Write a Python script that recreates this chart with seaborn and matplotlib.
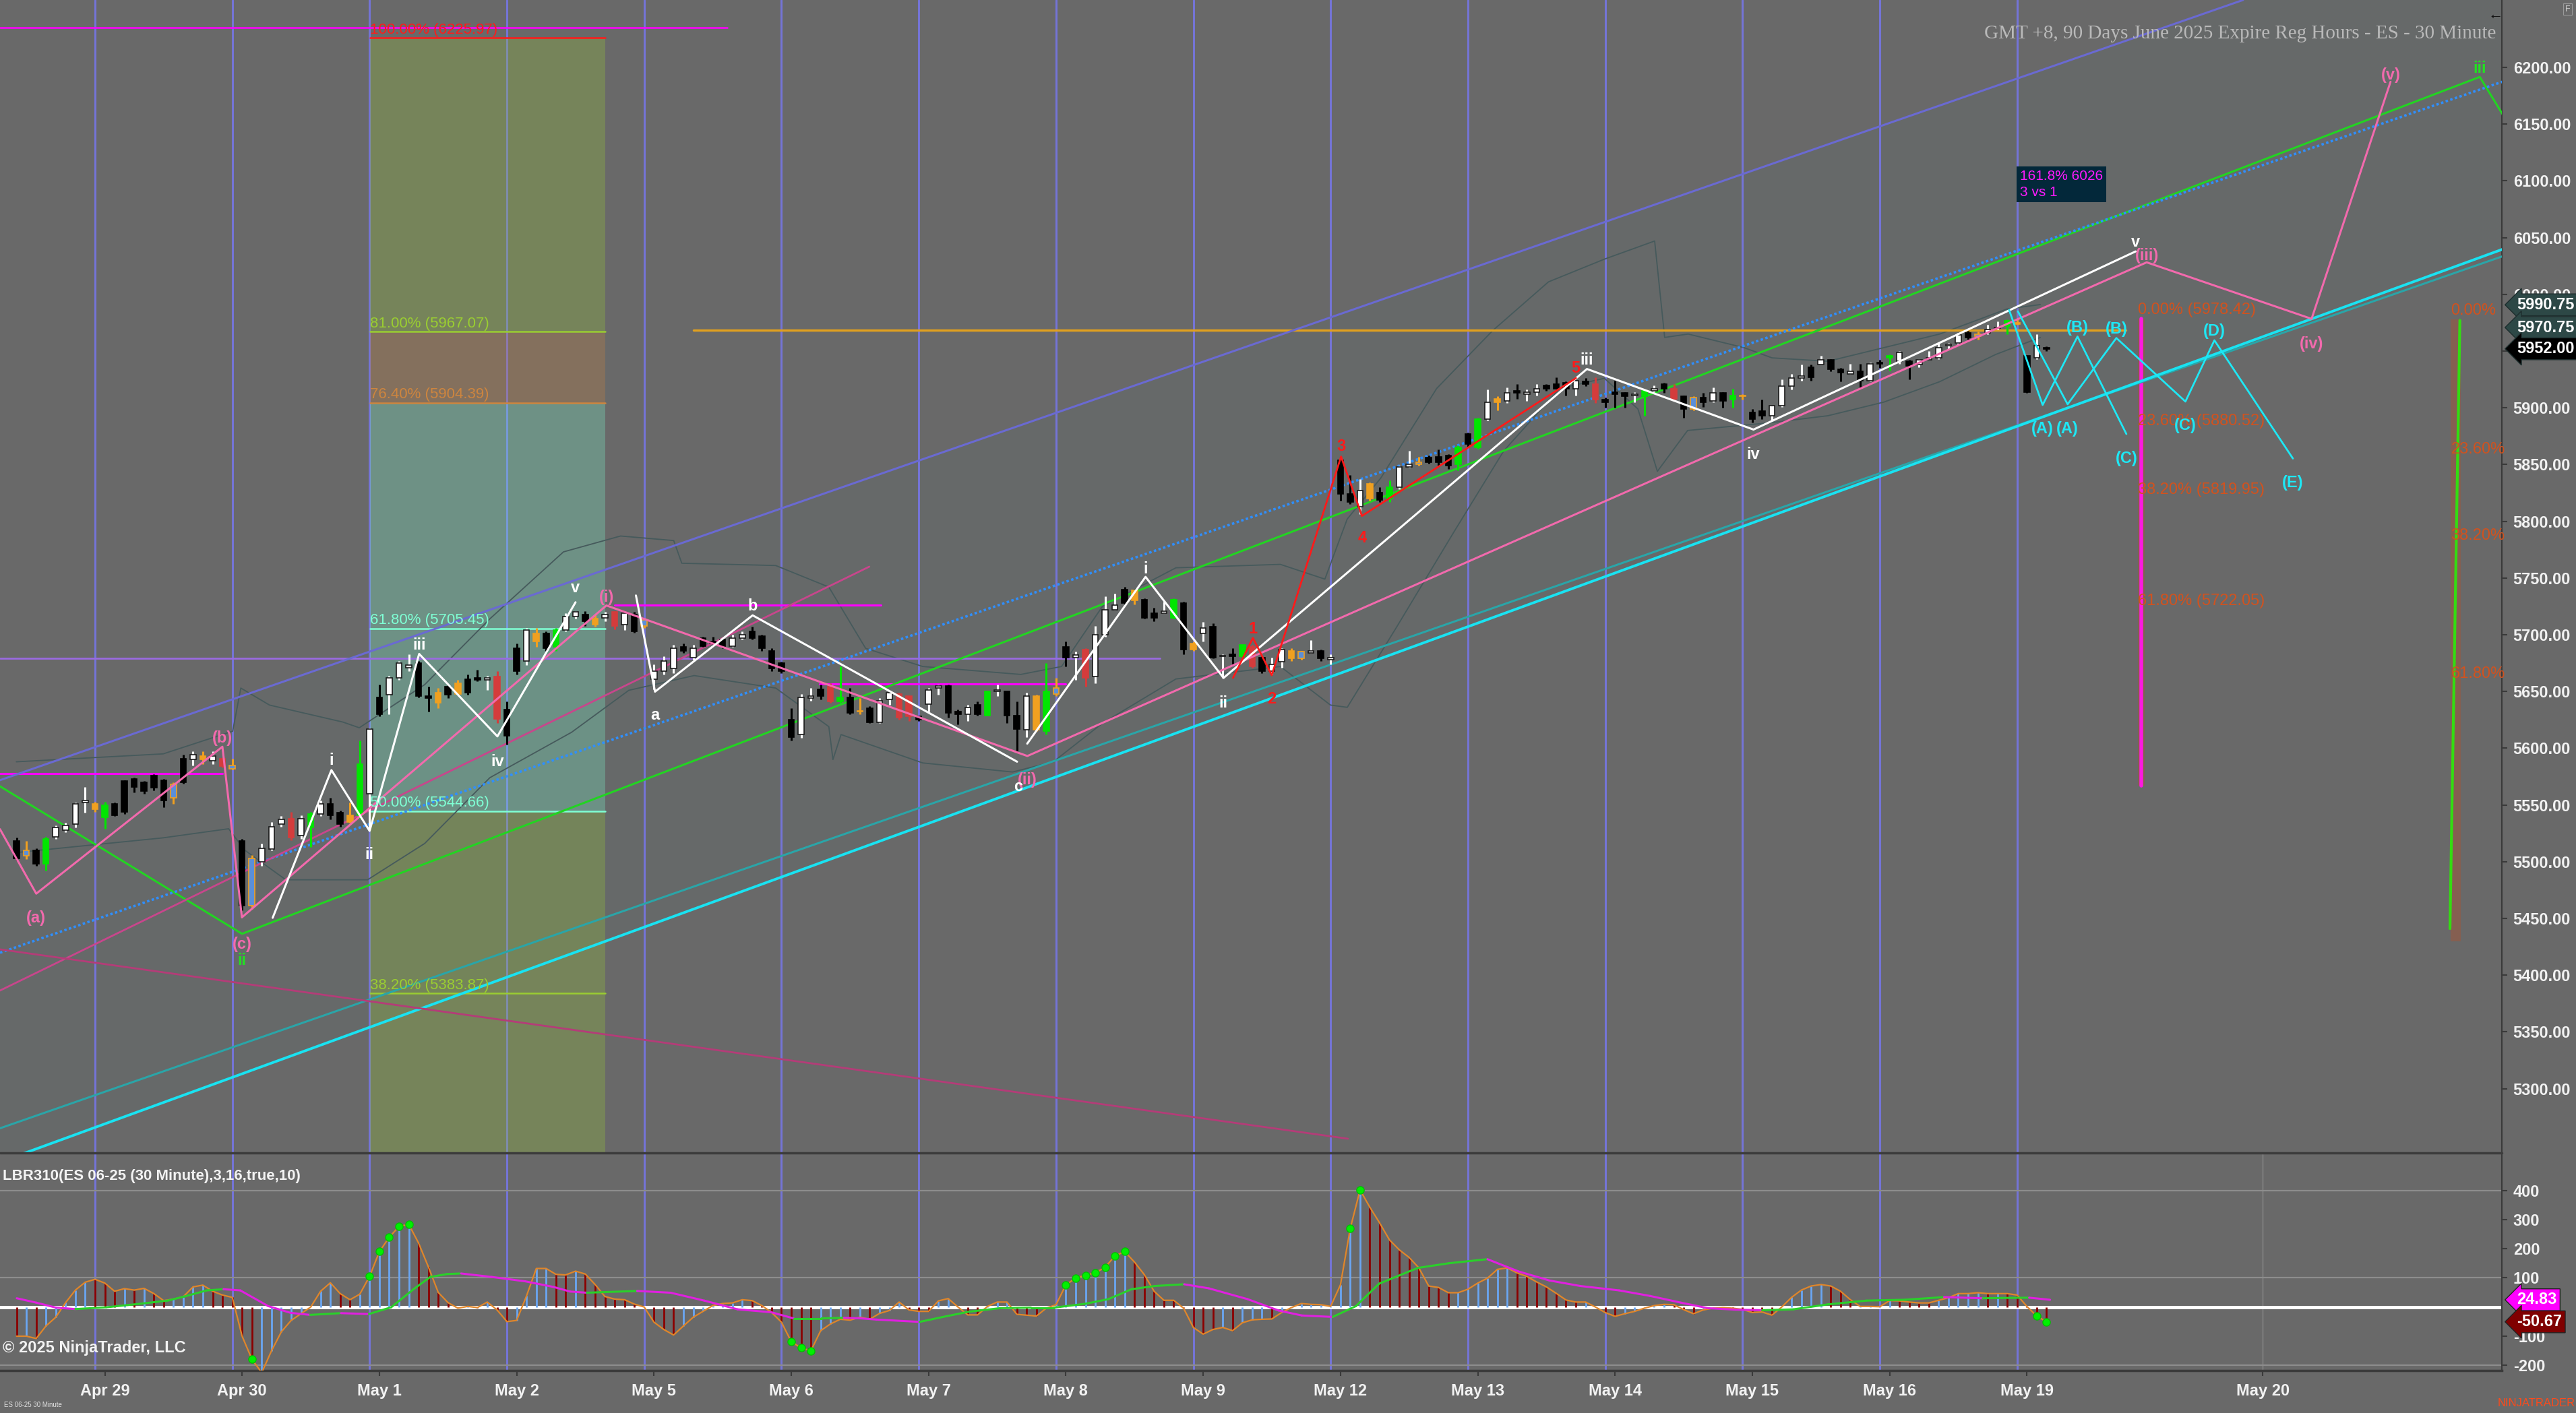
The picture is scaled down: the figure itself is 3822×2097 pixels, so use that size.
import numpy as np
import matplotlib
matplotlib.use("Agg")
import matplotlib.pyplot as plt
import matplotlib.transforms as mtransforms
from matplotlib.lines import Line2D
import seaborn as sns

# ---------------- data ----------------
# sessions: day index (Apr 29 = 0), first bar number, number of bars (14 bars of 30 min per session)
day_names = ["Apr 28", "Apr 29", "Apr 30", "May 1", "May 2", "May 5", "May 6", "May 7",
             "May 8", "May 9", "May 12", "May 13", "May 14", "May 15", "May 16", "May 19"]
day_index = [-1, 0, 1, 2, 3, 4, 5, 6, 7, 8, 9, 10, 11, 12, 13, 14]
first_bar = [6, 1, 1, 1, 1, 1, 1, 1, 1, 1, 1, 1, 1, 1, 1, 1]
bar_count = [9, 14, 14, 14, 14, 14, 14, 14, 14, 14, 14, 14, 14, 14, 14, 3]

opens = [5518, 5505, 5510, 5498, 5522, 5528, 5533, 5552, 5551,
         5539, 5551, 5571, 5573, 5570, 5576, 5572, 5556, 5591, 5590, 5593, 5589, 5591, 5582,
         5518, 5461, 5500, 5511, 5533, 5538, 5523, 5530, 5542, 5551, 5543, 5535, 5541, 5560,
         5645, 5647, 5662, 5671, 5675, 5646, 5640, 5654, 5648, 5661, 5662, 5660, 5663, 5634,
         5688, 5677, 5701, 5701, 5689, 5704, 5716, 5718, 5714, 5715, 5720, 5709, 5718, 5708,
         5661, 5668, 5670, 5689, 5680, 5697, 5694, 5696, 5690, 5697, 5703, 5699, 5686, 5675,
         5625, 5612, 5644, 5652, 5654, 5641, 5645, 5633, 5635, 5623, 5643, 5648, 5646, 5628,
         5639, 5653, 5655, 5632, 5630, 5638, 5629, 5650, 5650, 5629, 5616, 5616, 5615, 5648,
         5689, 5680, 5687, 5663, 5700, 5722, 5740, 5730, 5731, 5719, 5719, 5715, 5728, 5687,
         5701, 5707, 5681, 5683, 5681, 5689, 5680, 5668, 5676, 5686, 5685, 5684, 5686, 5678,
         5854, 5824, 5813, 5833, 5825, 5820, 5830, 5848, 5852, 5856, 5857, 5858, 5850, 5877,
         5865, 5890, 5908, 5906, 5915, 5912, 5914, 5920, 5921, 5922, 5917, 5923, 5921, 5907,
         5914, 5913, 5911, 5910, 5915, 5921, 5917, 5910, 5899, 5909, 5906, 5913, 5907, 5911,
         5896, 5897, 5893, 5902, 5919, 5926, 5936, 5938, 5942, 5934, 5930, 5932, 5924, 5940,
         5944, 5941, 5941, 5938, 5942, 5944, 5955, 5957, 5966, 5963, 5966, 5970, 5972, 5975,
         5946, 5944, 5953]
highs = [5521, 5518, 5512, 5522, 5532, 5534, 5552, 5566, 5553,
         5553, 5552, 5572, 5574, 5571, 5577, 5573, 5570, 5594, 5597, 5597, 5597, 5592, 5591,
         5520, 5506, 5516, 5535, 5540, 5544, 5541, 5544, 5554, 5556, 5545, 5552, 5607, 5618,
         5656, 5664, 5677, 5683, 5677, 5654, 5653, 5656, 5660, 5665, 5669, 5664, 5668, 5641,
         5692, 5706, 5706, 5703, 5706, 5719, 5721, 5721, 5718, 5720, 5721, 5720, 5720, 5715,
         5674, 5681, 5691, 5692, 5691, 5698, 5698, 5697, 5700, 5703, 5707, 5700, 5688, 5676,
         5635, 5648, 5653, 5656, 5657, 5672, 5653, 5644, 5637, 5644, 5649, 5649, 5646, 5628,
         5653, 5656, 5656, 5634, 5638, 5641, 5650, 5656, 5650, 5641, 5649, 5647, 5675, 5662,
         5694, 5685, 5688, 5708, 5734, 5736, 5742, 5740, 5732, 5724, 5729, 5732, 5729, 5694,
         5711, 5710, 5683, 5688, 5691, 5691, 5681, 5680, 5688, 5688, 5686, 5695, 5687, 5683,
         5857, 5841, 5837, 5834, 5830, 5836, 5849, 5862, 5857, 5858, 5863, 5859, 5867, 5878,
         5891, 5916, 5910, 5918, 5921, 5916, 5921, 5921, 5927, 5923, 5924, 5926, 5927, 5909,
         5924, 5914, 5914, 5916, 5920, 5922, 5921, 5911, 5910, 5913, 5918, 5914, 5917, 5912,
         5899, 5907, 5902, 5925, 5930, 5938, 5938, 5946, 5943, 5935, 5939, 5939, 5940, 5942,
         5947, 5950, 5942, 5943, 5950, 5957, 5957, 5966, 5968, 5967, 5973, 5976, 5978, 5979,
         5946, 5965, 5954]
lows = [5501, 5502, 5496, 5492, 5520, 5526, 5530, 5543, 5544,
        5529, 5540, 5542, 5561, 5560, 5563, 5548, 5551, 5569, 5585, 5586, 5586, 5583, 5581,
        5457, 5458, 5496, 5510, 5531, 5519, 5520, 5513, 5540, 5537, 5531, 5534, 5538, 5528,
        5628, 5630, 5660, 5668, 5645, 5632, 5635, 5644, 5647, 5647, 5659, 5651, 5622, 5603,
        5665, 5673, 5689, 5686, 5686, 5703, 5714, 5708, 5707, 5712, 5705, 5704, 5702, 5706,
        5652, 5665, 5666, 5684, 5678, 5689, 5691, 5688, 5689, 5696, 5696, 5686, 5668, 5666,
        5607, 5609, 5642, 5643, 5640, 5640, 5630, 5630, 5622, 5622, 5638, 5625, 5624, 5624,
        5632, 5647, 5627, 5621, 5624, 5629, 5629, 5646, 5622, 5597, 5610, 5615, 5612, 5646,
        5672, 5660, 5654, 5657, 5698, 5722, 5727, 5727, 5714, 5712, 5719, 5714, 5683, 5686,
        5694, 5679, 5662, 5674, 5680, 5671, 5666, 5665, 5671, 5677, 5678, 5684, 5677, 5674,
        5818, 5815, 5806, 5818, 5817, 5817, 5828, 5847, 5849, 5851, 5849, 5846, 5845, 5865,
        5864, 5889, 5898, 5904, 5908, 5906, 5911, 5915, 5917, 5911, 5911, 5919, 5904, 5900,
        5900, 5900, 5905, 5893, 5914, 5913, 5907, 5891, 5898, 5901, 5905, 5900, 5900, 5907,
        5887, 5890, 5889, 5901, 5916, 5924, 5924, 5938, 5932, 5923, 5930, 5918, 5923, 5935,
        5933, 5939, 5925, 5936, 5942, 5943, 5951, 5956, 5960, 5960, 5965, 5969, 5965, 5973,
        5913, 5943, 5950]
closes = [5503, 5510, 5498, 5520, 5530, 5532, 5551, 5554, 5546,
          5550, 5541, 5544, 5566, 5562, 5565, 5554, 5568, 5570, 5594, 5590, 5593, 5584, 5585,
          5461, 5503, 5512, 5531, 5537, 5521, 5538, 5542, 5551, 5541, 5533, 5541, 5586, 5617,
          5630, 5662, 5675, 5673, 5646, 5644, 5649, 5647, 5657, 5649, 5660, 5662, 5626, 5611,
          5668, 5704, 5694, 5688, 5704, 5716, 5720, 5712, 5709, 5718, 5708, 5719, 5703, 5713,
          5668, 5677, 5688, 5686, 5688, 5690, 5692, 5690, 5697, 5700, 5697, 5688, 5670, 5668,
          5610, 5645, 5646, 5646, 5641, 5645, 5631, 5632, 5623, 5642, 5649, 5627, 5628, 5625,
          5651, 5655, 5631, 5630, 5636, 5630, 5650, 5651, 5629, 5617, 5646, 5646, 5650, 5653,
          5680, 5682, 5662, 5700, 5722, 5726, 5728, 5739, 5715, 5715, 5721, 5731, 5687, 5692,
          5706, 5680, 5681, 5681, 5691, 5672, 5668, 5674, 5687, 5679, 5679, 5686, 5679, 5680,
          5824, 5817, 5827, 5820, 5819, 5830, 5848, 5850, 5850, 5852, 5852, 5849, 5865, 5868,
          5890, 5905, 5905, 5913, 5913, 5914, 5917, 5917, 5917, 5917, 5924, 5921, 5907, 5905,
          5912, 5910, 5912, 5915, 5917, 5917, 5908, 5899, 5909, 5905, 5913, 5906, 5911, 5910,
          5890, 5893, 5902, 5919, 5926, 5928, 5927, 5942, 5934, 5931, 5932, 5924, 5939, 5939,
          5946, 5949, 5937, 5942, 5944, 5953, 5956, 5964, 5962, 5965, 5969, 5971, 5977, 5974,
          5914, 5955, 5952]
# bar colours: w white, b black, g green, o orange, r red, u blue body with orange outline
candle_colors = ("bubgwwwwo" "gbbbbbbubwowru" "buwwwrwgwbbogw" "bwwwbbobobbwrb" "bwobgwwbowrwbu"
                 "wwwbwbbbwwbbbb" "bwwbrgbubwwrrb" "wwbbwbgwbbwogu" "bwrwwwbobbwgbo" "wbwbgrbwwouwbw"
                 "bbwobgwwubbbgb" "gwowbwwbbbwbrb" "bbwgwbrbubwbgo" "bbwwwwbwbbwbwb" "gwbwwwwwbuwwgo"
                 "bwb")

# price envelope (thin dark bands around the bars)
env_upper_x = [-0.573, 0.497, 1.003, 1.062, 1.271, 1.806, 1.925, 2.401, 2.876, 3.412, 3.828, 4.215, 4.274,
               4.958, 5.345, 5.613, 6.029, 6.743, 7.04, 7.338, 7.873, 8.634, 8.958, 9.121, 9.365, 9.772,
               10.18, 10.587, 10.994, 11.36, 11.433, 11.604, 12.011, 12.215, 12.622, 13.029, 13.436,
               13.925, 14.169]
env_upper_y = [5588, 5595, 5615, 5653, 5638, 5623, 5618, 5656, 5714, 5773, 5787, 5783, 5763,
               5761, 5742, 5688, 5672, 5665, 5672, 5725, 5759, 5762, 5749, 5802, 5838, 5917,
               5968, 6011, 6031, 6047, 5962, 5965, 5953, 5944, 5941, 5953, 5965,
               5987, 5991]
env_lower_x = [-0.573, 0.497, 0.973, 1.092, 1.39, 1.985, 2.401, 2.876, 3.471, 3.888, 4.364, 4.958, 5.345,
               5.375, 5.434, 6.029, 6.683, 6.98, 7.338, 7.873, 8.634, 8.999, 9.121, 9.487, 9.895,
               10.261, 10.668, 10.994, 11.238, 11.38, 11.6, 12.215, 12.622, 13.029, 13.436, 13.844, 14.169]
env_lower_y = [5508, 5521, 5529, 5510, 5484, 5484, 5516, 5574, 5614, 5651, 5664, 5653, 5619,
               5590, 5612, 5587, 5579, 5588, 5622, 5661, 5672, 5638, 5636, 5708, 5790,
               5862, 5917, 5926, 5899, 5844, 5880, 5887, 5893, 5905, 5923, 5947, 5962]

# LBR310 oscillator
osc_values = [-100, -100, -108, -65, -35, 15, 58, 85, 95,
              82, 54, 63, 58, 64, 46, 22, 27, 35, 69, 75, 54, 41, 33,
              -100, -179, -225, -150, -85, -46, -23, 0, 54, 83, 46, 25, 44, 105,
              190, 239, 276, 283, 219, 137, 50, 15, -4, 2, -2, 17, -10, -50,
              -46, 38, 132, 132, 112, 110, 123, 113, 77, 36, 27, 25, 10, 0,
              -52, -77, -96, -65, -35, -15, 5, 12, 14, 25, 22, 5, -19, -52,
              -119, -140, -150, -81, -58, -42, -45, -35, -42, -22, -12, 17, -10, -15,
              -15, 21, 29, 0, -27, -27, 2, 17, 17, -25, -28, -31, -4, 8,
              76, 99, 109, 117, 136, 175, 190, 154, 111, 54, 23, 23, -4, -70,
              -93, -77, -70, -81, -54, -44, -42, -41, -19, -2, 12, 9, 8, 2,
              76, 269, 401, 342, 288, 230, 196, 170, 134, 72, 67, 49, 49, 61,
              82, 99, 129, 134, 117, 105, 86, 69, 47, 24, 17, 17, 0, -19,
              -32, -23, -15, -4, 5, 9, 8, -9, -23, -10, -4, -2, -4, -8,
              -19, -17, -28, 0, 33, 58, 72, 77, 72, 54, 25, 2, 2, 1,
              22, 21, 17, 14, 14, 23, 32, 46, 46, 49, 46, 46, 46, 41,
              2, -31, -50.67]
# b blue bar, r red bar, capital = green dot on the bar
osc_colors = ("rbrbbbbbr" "rrbrbrrbbbbrrr" "rRbbbbbbbbrrbB" "BBBBrrrrrbrbrr" "bbbbrrbrrrrrrr"
              "rrrbbbbbbbrrrr" "RRRbbbrbrbbbrr" "rbbbrrbbbrrrbb" "BBBBBBBrrrrrrr" "rrbrbbbrbbbbbb"
              "bBBrrrrrrrrrbb" "bbbbrrrrrrrbbr" "rbbbbbrrrbbbrr" "rrrbbbbbrrrbbb" "brrrrbbbbbrbrr"
              "rRR")
signal_x = [-0.570, -0.428, -0.285, -0.143, 0.081, 0.326, 0.529, 0.651, 0.814, 0.936, 1.058, 1.262,
            1.425, 1.567, 1.791, 1.995, 2.157, 2.320, 2.442, 2.565, 2.666, 2.890, 3.134, 3.338, 3.460,
            3.582, 3.949, 4.193, 4.437, 4.681, 4.926, 5.089, 5.292, 5.455, 5.577, 5.690, 6.006, 6.197,
            6.366, 6.592, 6.817, 6.986, 7.212, 7.381, 7.550, 7.719, 7.933, 8.113, 8.395, 8.621, 8.790,
            9.015, 9.184, 9.353, 9.635, 9.861, 10.142, 10.368, 10.593, 10.819, 11.101, 11.326, 11.551,
            11.749, 11.946, 12.143, 12.369, 12.622, 12.904, 13.186, 13.468, 13.750, 13.890, 14.088, 14.240]
signal_y = [30, 15, -2, -7, -1, 11, 22, 36, 57, 61, 57, 3, -20, -27, -21, -24, -1, 61, 103, 113, 115,
            103, 88, 69, 53, 49, 55, 49, 22, -8, -18, -39, -39, -37, -39, -43, -51, -32, -16, -4, -2, -2,
            11, 27, 61, 72, 78, 64, 27, -12, -29, -34, 3, 80, 134, 150, 164, 122, 91, 72, 57, 38, 15, -4,
            -9, -11, -8, 9, 22, 25, 34, 30, 31, 32, 24.83]

# drawn tools (x in session units, y in price)
chan_upper_x, chan_upper_y = [-0.692, 15.646], [5571.8, 6259.4]
green_x, green_y = [-0.692, 1.071, 17.37, 17.54], [5566.4, 5436.4, 6191.6, 6157.9]
dotted_x, dotted_y = [-0.692, 17.54], [5419.7, 6187.6]
cyan_x, cyan_y = [-0.692, 17.54], [5235.2, 6039.9]
teal_x, teal_y = [-0.692, 17.54], [5265.0, 6033.7]
steep_x, steep_y = [-0.692, 5.64], [5386.4, 5760.0]
lowred_x, lowred_y = [-0.692, 9.126], [5422.7, 5255.8]
pink_wave_x = [-0.692, -0.428, 0.928, 1.070, 3.725, 6.791, 14.944, 16.145, 16.72]
pink_wave_y = [5528.6, 5471.8, 5601.3, 5450.9, 5725.8, 5593.1, 6028.2, 5978.4, 6187.3]
white_waves = [([1.294, 1.722, 2.0, 2.361, 2.931, 3.5], [5450.5, 5580.7, 5527.1, 5683.1, 5610.4, 5728.6]),
               ([3.94, 4.079, 4.79, 6.716], [5734.6, 5649.8, 5717.1, 5588.1]),
               ([6.79, 7.652, 8.22, 10.867, 12.08, 14.863], [5604, 5751, 5661.9, 5934.2, 5880.8, 6037.8])]
red_wave_x = [8.289, 8.434, 8.571, 9.076, 9.228, 10.787]
red_wave_y = [5662, 5697.2, 5664.3, 5857, 5804.7, 5926.2]
cyan_zigs = [([13.942, 14.186, 14.44, 14.796], [5986.2, 5902.5, 5962.8, 5876.9]),
             ([14.006, 14.368, 14.723, 15.226, 15.437, 16.009], [5985, 5903.1, 5961.5, 5905.5, 5959.5, 5855.3])]
hlines = [(5679.0, -0.692, 7.757, "#9a6ae0", 2.0), (6235.0, -0.692, 4.605, "#ff00ff", 1.8),
          (5577.7, -0.692, 0.928, "#ff00ff", 2.2), (5726.0, 3.785, 5.724, "#ff00ff", 2.2),
          (5656.7, 5.276, 7.067, "#ff00ff", 2.2), (5968.5, 4.36, 14.79, "#e0a020", 2.5)]

fib_x0, fib_x1 = 2.003, 3.716
fib_levels = [100.0, 81.0, 76.4, 61.8, 50.0, 38.2]
fib_prices = [6225.97, 5967.07, 5904.39, 5705.45, 5544.66, 5383.87]
fib_colors = ["#ff1a1a", "#9acd32", "#cd853f", "#7fffd4", "#7fffd4", "#9acd32"]
fib2_levels = [0.0, 23.6, 38.2, 61.8]
fib2_prices = [5978.42, 5880.52, 5819.95, 5722.05]
fib3_levels = [0.0, 23.6, 38.2, 61.8]
fib3_prices = [5978.0, 5856.0, 5780.0, 5658.0]

pink_labels = [("(a)", -0.428, 5450), ("(b)", 0.928, 5609), ("(c)", 1.07, 5427), ("(i)", 3.725, 5733),
               ("(ii)", 6.79, 5572), ("(iii)", 14.944, 6034), ("(iv)", 16.145, 5956), ("(v)", 16.72, 6193)]
green_labels = [("ii", 1.07, 5413), ("iii", 17.37, 6199)]
white_labels = [("i", 1.722, 5589), ("ii", 2.0, 5506), ("iii", 2.361, 5691), ("iv", 2.931, 5588),
                ("v", 3.5, 5741), ("a", 4.079, 5629), ("b", 4.79, 5725), ("c", 6.723, 5566),
                ("i", 7.652, 5758), ("ii", 8.22, 5640), ("iii", 10.867, 5942), ("iv", 12.08, 5859),
                ("v", 14.863, 6046)]
red_labels = [("1", 8.434, 5705), ("2", 8.571, 5643), ("3", 9.076, 5866), ("4", 9.228, 5785), ("5", 10.787, 5935)]
cyan_labels = [("(A)", 14.186, 5881.6), ("(A)", 14.368, 5881.6), ("(B)", 14.44, 5970.5), ("(B)", 14.723, 5969.4),
               ("(C)", 14.796, 5855.3), ("(C)", 15.226, 5884.2), ("(D)", 15.437, 5967.4), ("(E)", 16.009, 5834.1)]

date_labels = ["Apr 29", "Apr 30", "May 1", "May 2", "May 5", "May 6", "May 7", "May 8", "May 9",
               "May 12", "May 13", "May 14", "May 15", "May 16", "May 19", "May 20"]
may20_pos = 15.79
price_tags = [(5990.75, "#2d4846"), (5970.75, "#2d4846"), (5952.00, "#000000")]
osc_tags = [(24.83, "#ff00ff"), (-50.67, "#800000")]

# ---------------- style ----------------
BG = "#696969"
sns.set_theme(style="dark", rc={"axes.facecolor": BG, "figure.facecolor": BG})
plt.rcParams["font.family"] = ["Liberation Sans", "DejaVu Sans"]

fig = plt.figure(figsize=(38.23, 20.97), dpi=100, facecolor=BG)
ax = fig.add_axes([0, 0.18455, 0.97097, 0.81545])
ax2 = fig.add_axes([0, 0.03004, 0.97097, 0.15308])
for a in (ax, ax2):
    a.set_facecolor(BG)
    a.set_xlim(-0.692, 17.531)
    for s in ("top", "left", "bottom"):
        a.spines[s].set_visible(False)
    a.spines["right"].set_color("#3a3a3a")
    a.spines["right"].set_linewidth(1.5)
    a.grid(False)
ax.set_ylim(5243.9, 6259.4)
ax2.set_ylim(-217.8, 523.6)

# bar positions
bar_x = []
for d, k0, n in zip(day_index, first_bar, bar_count):
    for k in range(k0, k0 + n):
        bar_x.append(d + k / 14)
bar_x = np.array(bar_x)
o, h, l, c = map(np.array, (opens, highs, lows, closes))

# channel tint
ax.fill([-0.692, 15.646, 17.6, 17.6, -0.692], [5571.8, 6259.4, 6259.4, 6039.9, 5235.2],
        color="#4f6e70", alpha=0.10, lw=0, zorder=0.5)

# session separators
for d in range(0, 15):
    ax.axvline(d, color="#7474d6", lw=2.2, zorder=1)
    ax2.axvline(d, color="#7474d6", lw=2.2, zorder=1)
ax2.axvline(may20_pos, color="#8a8a8a", lw=1, zorder=1)

# fibonacci box
band_bottoms = fib_prices[1:] + [5240]
band_colors = fib_colors[1:] + ["#9acd32"]
for top, bot, bc in zip(fib_prices, band_bottoms, band_colors):
    ax.fill_between([fib_x0, fib_x1], bot, top, color=bc, alpha=0.27, lw=0, zorder=1.5)
for lvl, p, fc in zip(fib_levels, fib_prices, fib_colors):
    ax.plot([fib_x0, fib_x1], [p, p], color=fc, lw=1.8, zorder=2)
    ax.text(fib_x0, p + 1, f"{lvl:.2f}% ({p:.2f})", color=fc, fontsize=16, ha="left", va="bottom", zorder=9)

# envelope
ax.plot(env_upper_x, env_upper_y, color="#465a5c", lw=1.3, zorder=2.5)
ax.plot(env_lower_x, env_lower_y, color="#465a5c", lw=1.3, zorder=2.5)

# right-hand retracements
ax.fill_between([14.88, 14.93], 5567, 5978.42, color="#b0522d", alpha=0.4, lw=0, zorder=2)
ax.plot([14.905, 14.905], [5978.42, 5567], color="#ff19e0", lw=4, zorder=3)
for lvl, p in zip(fib2_levels, fib2_prices):
    ax.text(14.88, p + 1, f"{lvl:.2f}% ({p:.2f})", color="#d2521e", fontsize=17, ha="left", va="bottom", zorder=9)
ax.fill_between([17.16, 17.23], 5430, 5978, color="#b0522d", alpha=0.4, lw=0, zorder=2)
ax.plot([17.225, 17.153], [5977, 5441], color="#33dd11", lw=3, zorder=3)
for lvl, p in zip(fib3_levels, fib3_prices):
    ax.text(17.16, p + 1, f"{lvl:.2f}%", color="#d2521e", fontsize=17, ha="left", va="bottom", zorder=9)

# horizontal lines
for y, x0, x1, col, lw in hlines:
    ax.plot([x0, x1], [y, y], color=col, lw=lw, zorder=3)

# channels and trendlines
ax.plot(chan_upper_x, chan_upper_y, color="#6a6ad2", lw=2.2, zorder=3)
ax.plot(green_x, green_y, color="#22d422", lw=2.2, zorder=3)
ax.plot(dotted_x, dotted_y, color="#2f8fff", lw=2.6, ls=(0, (1, 1)), zorder=3)
ax.plot(teal_x, teal_y, color="#2aa5a8", lw=2.2, zorder=3)
ax.plot(cyan_x, cyan_y, color="#19e3f2", lw=2.8, zorder=3)
ax.plot(steep_x, steep_y, color="#c8468c", lw=2.0, zorder=3)
ax.plot(lowred_x, lowred_y, color="#b43c78", lw=2.0, zorder=3)

# candles
cmap_body = {"w": "#ffffff", "b": "#000000", "g": "#00e600", "o": "#f0a020", "r": "#d43c3c", "u": "#5b8fd8"}
cmap_wick = {"w": "#ffffff", "b": "#000000", "g": "#00e600", "o": "#f0a020", "r": "#d43c3c", "u": "#f0a020"}
cmap_edge = {"w": "#1a1a1a", "b": "#000000", "g": "#00e600", "o": "#f0a020", "r": "#d43c3c", "u": "#f0a020"}
ax.vlines(bar_x, l, h, colors=[cmap_wick[k] for k in candle_colors], lw=2.2, zorder=5)
ax.bar(bar_x, np.maximum(np.abs(c - o), 0.8), bottom=np.minimum(o, c), width=0.042,
       color=[cmap_body[k] for k in candle_colors], edgecolor=[cmap_edge[k] for k in candle_colors],
       linewidth=1.2, zorder=6)

# wave counts
ax.plot(pink_wave_x, pink_wave_y, color="#f26aad", lw=2.2, zorder=7)
for xs, ys in white_waves:
    ax.plot(xs, ys, color="#ffffff", lw=2.2, zorder=7)
ax.plot(red_wave_x, red_wave_y, color="#ff1a1a", lw=2.0, zorder=7)
for xs, ys in cyan_zigs:
    ax.plot(xs, ys, color="#1ee8f5", lw=2.0, zorder=7)
for group, col in [(pink_labels, "#f26aad"), (green_labels, "#22e022"), (white_labels, "#ffffff"),
                   (red_labels, "#ff1a1a"), (cyan_labels, "#1ee8f5")]:
    for txt, x, y in group:
        ax.text(x, y, txt, color=col, fontsize=17, fontweight="bold", ha="center", va="center", zorder=9)

ax.text(14.02, 6097, "161.8% 6026\n3 vs 1", color="#ff1aff", fontsize=15, ha="left", va="center",
        linespacing=1.3, bbox=dict(boxstyle="square,pad=0.25", fc="#03283a", ec="none"), zorder=9)

# title
ax.text(0.9976, 0.9708, "GMT +8, 90 Days June 2025 Expire Reg Hours - ES - 30 Minute", transform=ax.transAxes,
        ha="right", va="center", fontsize=21, color="#b9b9b9", family=["Liberation Serif", "DejaVu Serif"])

# price axis
ax.yaxis.tick_right()
ticks = np.arange(5300, 6201, 50)
ax.set_yticks(ticks)
ax.set_yticklabels([f"{t:.2f}" for t in ticks])
ax.tick_params(axis="y", colors="#f2f2f2", labelsize=17, length=6, width=1.5, pad=6, right=True)
ax.tick_params(axis="y", color="#3a3a3a")
ax.tick_params(axis="x", bottom=False, labelbottom=False)
for t in ax.get_yticklabels():
    t.set_fontweight("bold")
trans = mtransforms.blended_transform_factory(ax.transAxes, ax.transData)
for val, fc in price_tags:
    ax.text(1.006, val, f"{val:.2f}", transform=trans, ha="left", va="center", fontsize=17, fontweight="bold",
            color="white", bbox=dict(boxstyle="larrow,pad=0.2", fc=fc, ec="#1e2e2e", lw=1), clip_on=False, zorder=20)

# ---------------- oscillator ----------------
for yv in (400, 100, -200):
    ax2.axhline(yv, color="#8d8d8d", lw=1.6, zorder=1)
ax2.axhline(0, color="#ffffff", lw=3.5, zorder=2)
ov = np.array(osc_values, dtype=float)
ax2.vlines(bar_x, 0, ov, colors=["#6aa6f2" if k in "bB" else "#8b0000" for k in osc_colors], lw=2, zorder=3)
sns.lineplot(x=bar_x, y=ov, ax=ax2, color="#e0862a", lw=1.6, zorder=4)
dots = [i for i, k in enumerate(osc_colors) if k.isupper()]
ax2.plot(bar_x[dots], ov[dots], "o", color="#00f000", ms=8, mec="#00c000", zorder=6)
for i in range(len(signal_x) - 1):
    col = "#2ad02a" if signal_y[i + 1] >= signal_y[i] else "#e020e0"
    ax2.plot(signal_x[i:i + 2], signal_y[i:i + 2], color=col, lw=2.2, zorder=5)

ax2.yaxis.tick_right()
ax2.set_yticks([-200, -100, 100, 200, 300, 400])
ax2.set_yticklabels(["-200", "-100", "100", "200", "300", "400"])
ax2.tick_params(axis="y", colors="#f2f2f2", labelsize=17, length=6, width=1.5, pad=6, right=True)
ax2.tick_params(axis="y", color="#3a3a3a")
for t in ax2.get_yticklabels():
    t.set_fontweight("bold")
ax2.spines["bottom"].set_visible(True)
ax2.spines["bottom"].set_color("#3a3a3a")
ax2.spines["bottom"].set_linewidth(2.5)
xt = [d + 1 / 14 for d in range(0, 15)] + [may20_pos]
ax2.set_xticks(xt)
ax2.set_xticklabels(date_labels)
ax2.tick_params(axis="x", colors="#f2f2f2", labelsize=17, length=6, width=1.5, pad=8, bottom=True)
ax2.tick_params(axis="x", color="#3a3a3a")
for t in ax2.get_xticklabels():
    t.set_fontweight("bold")
trans2 = mtransforms.blended_transform_factory(ax2.transAxes, ax2.transData)
for val, fc in osc_tags:
    ax2.text(1.006, val, f"{val:.2f}", transform=trans2, ha="left", va="center", fontsize=17, fontweight="bold",
             color="white", bbox=dict(boxstyle="larrow,pad=0.2", fc=fc, ec="#222222", lw=1), clip_on=False, zorder=20)

ax2.text(0.001, 0.93, "LBR310(ES 06-25 (30 Minute),3,16,true,10)", transform=ax2.transAxes, ha="left", va="top",
         fontsize=16, fontweight="bold", color="#f2f2f2")
ax2.text(0.001, 0.07, "\u00a9 2025 NinjaTrader, LLC", transform=ax2.transAxes, ha="left", va="bottom",
         fontsize=17, fontweight="bold", color="#f2f2f2")

# pane separator and frame text
fig.add_artist(Line2D([0, 0.97097], [0.18430, 0.18430], color="#3c3c3c", lw=2.5))
fig.text(0.0015, 0.0035, "ES 06-25 30 Minute", fontsize=7, color="#e0e0e0", ha="left", va="bottom")
fig.text(0.9995, 0.0035, "NINJATRADER", fontsize=12, color="#ff4a1a", ha="right", va="bottom")
fig.text(0.9715, 0.9895, "\u2190", fontsize=16, color="#111111", ha="right", va="center")
fig.text(0.9965, 0.9935, "F", fontsize=9, color="#cccccc", ha="center", va="center",
         bbox=dict(boxstyle="square,pad=0.2", fc="none", ec="#999999", lw=0.8))

fig.savefig("out.png", dpi=100, facecolor=BG)
